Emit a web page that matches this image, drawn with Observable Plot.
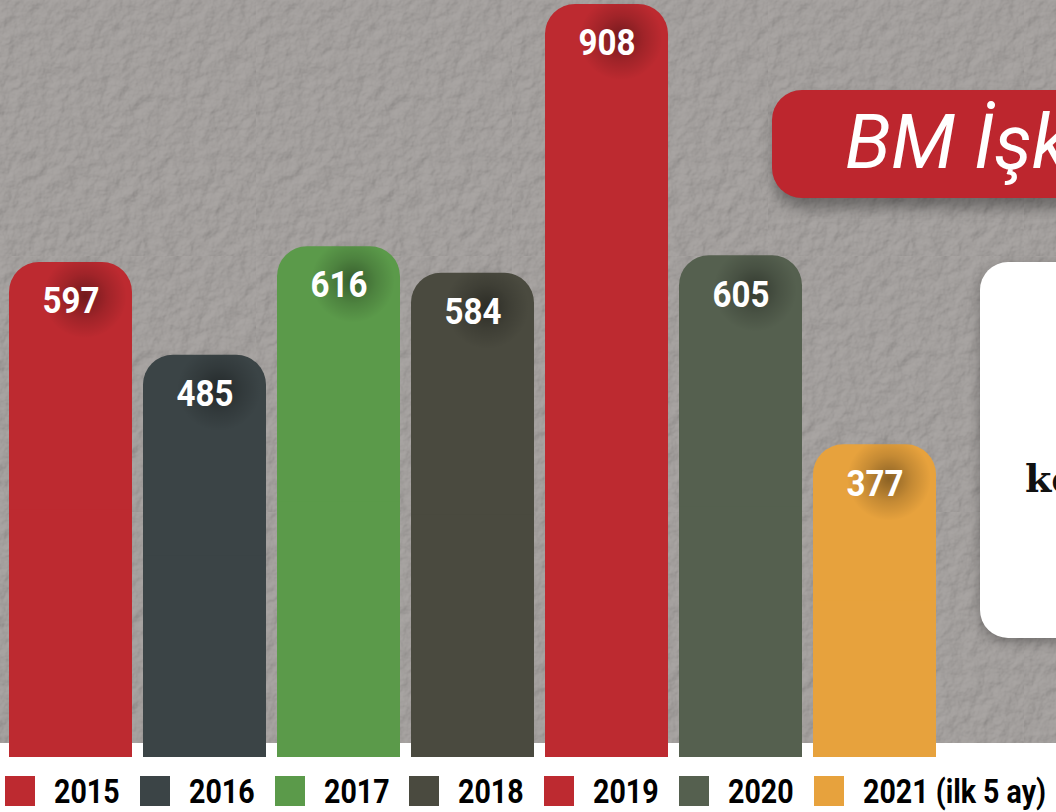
<!DOCTYPE html>
<html>
<head>
<meta charset="utf-8">
<script src="https://cdn.jsdelivr.net/npm/d3@7"></script>
<script src="https://cdn.jsdelivr.net/npm/@observablehq/plot@0.6"></script>
<style>
  html, body { margin: 0; padding: 0; }
  body { width: 1056px; height: 812px; overflow: hidden; position: relative; background: #ffffff; font-family: Roboto, "Liberation Sans", sans-serif; }
  #bg { position: absolute; left: 0; top: 0; width: 1056px; height: 743px;
    background-color: #aaa6a4;
    background-image: url("data:image/svg+xml;utf8,<svg xmlns='http://www.w3.org/2000/svg' width='256' height='256'><filter id='n'><feTurbulence type='fractalNoise' baseFrequency='0.07' numOctaves='4' seed='3'/><feDiffuseLighting lighting-color='%23a9a5a3' surfaceScale='2.4'><feDistantLight azimuth='225' elevation='55'/></feDiffuseLighting></filter><rect width='256' height='256' filter='url(%23n)' opacity='0.5'/></svg>");
  }
  #chart { position: relative; }
  #chart svg { display: block; background: transparent; }
  #legend { position: relative; height: 54px; }
  .item { position: absolute; top: 18px; height: 30px; }
  .sw { position: absolute; left: 0; top: 0; width: 30px; height: 30px; }
  .lbl { position: absolute; left: 49px; top: -2px; font-family: Roboto, sans-serif; font-weight: 700; font-size: 34px; color: #000; line-height: 34px; white-space: nowrap;
    transform: scaleX(0.84); transform-origin: left center; }
  #banner { position: absolute; left: 772px; top: 90px; width: 420px; height: 108px; border-radius: 30px;
    background: #bd262e; box-shadow: 2px 10px 14px rgba(0,0,0,0.35); }
  #banner span { position: absolute; left: 73px; top: 14px; font-family: Roboto, sans-serif; font-style: italic; font-weight: 400; font-size: 76px; color: #fff; white-space: nowrap; line-height: 76px; }
  #box { position: absolute; left: 980px; top: 262px; width: 300px; height: 376px; border-radius: 28px; background: #fff;
    box-shadow: 0 4px 12px rgba(0,0,0,0.3); }
  #box span { position: absolute; left: 45px; top: 194px; font-family: "DejaVu Serif", serif; font-weight: 700; font-size: 38px; color: #111; white-space: nowrap; }
</style>
</head>
<body>
<div id="bg"></div>
<div id="chart"></div>
<div id="legend"></div>
<div id="banner"><span>BM İşkence Komitesi</span></div>
<div id="box"><span>kez</span></div>
<script>
const years = ["2015", "2016", "2017", "2018", "2019", "2020", "2021"];
const values = [597, 485, 616, 584, 908, 605, 377];
const legendLabels = ["2015", "2016", "2017", "2018", "2019", "2020", "2021 (ilk 5 ay)"];
const palette = ["#bd2a30", "#3b4446", "#5b9a4a", "#4a4a3f", "#bd2a30", "#55604f", "#e7a23d"];

const data = years.map((year, i) => ({year, value: values[i]}));

const chart = Plot.plot({
  width: 1056,
  height: 758,
  margin: 0,
  x: {domain: years, range: [8.3, 937], paddingInner: 0.085, paddingOuter: 0, axis: null},
  y: {domain: [0, 908], range: [757, 4], axis: null},
  color: {domain: years, range: palette},
  marks: [
    Plot.barY(data, {x: "year", y: "value", fill: "year", rx: 30}),
    Plot.barY(data, {x: "year", y1: 0, y2: d => d.value / 2, fill: "year"}),
    Plot.dot(data, {x: "year", y: "value", r: 42, dx: 14, dy: 34, fill: "url(#glow)", stroke: null}),
    Plot.text(data, {x: "year", y: "value", text: d => String(d.value), dy: 39, lineAnchor: "middle",
      fill: "#fff", fontSize: 37, fontWeight: 700, fontFamily: "Roboto, sans-serif"})
  ]
});

const svg = d3.select(chart);
const grad = svg.insert("defs", ":first-child").append("radialGradient").attr("id", "glow");
grad.append("stop").attr("offset", "0%").attr("stop-color", "#000").attr("stop-opacity", 0.4);
grad.append("stop").attr("offset", "55%").attr("stop-color", "#000").attr("stop-opacity", 0.15);
grad.append("stop").attr("offset", "100%").attr("stop-color", "#000").attr("stop-opacity", 0);
svg.selectAll("text").attr("textLength", 57).attr("lengthAdjust", "spacingAndGlyphs");

document.getElementById("chart").appendChild(chart);

const legend = d3.select("#legend");
const itemLefts = years.map((_, i) => 5 + i * 134.8);
legendLabels.forEach((label, i) => {
  const it = legend.append("div").attr("class", "item").style("left", itemLefts[i] + "px");
  it.append("div").attr("class", "sw").style("background", palette[i]);
  it.append("div").attr("class", "lbl").text(label);
});
</script>
</body>
</html>
